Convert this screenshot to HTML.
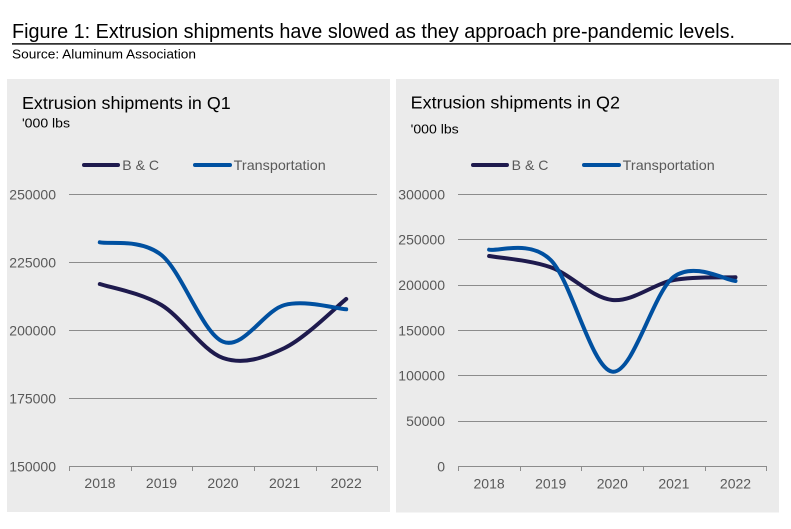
<!DOCTYPE html>
<html><head><meta charset="utf-8"><style>
html,body{margin:0;padding:0;background:#fff;}
svg{display:block;}
text{font-family:"Liberation Sans",Arial,sans-serif;}
</style></head><body>
<svg width="791" height="529" viewBox="0 0 791 529" xmlns="http://www.w3.org/2000/svg">
<rect width="791" height="529" fill="#fff"/>
<text x="12" y="38" font-size="20.5" fill="#000" textLength="723" lengthAdjust="spacingAndGlyphs">Figure 1: Extrusion shipments have slowed as they approach pre-pandemic levels.</text>
<rect x="12" y="43.2" width="779" height="1.4" fill="#000"/>
<text x="12" y="58.5" font-size="13" fill="#000" textLength="184" lengthAdjust="spacingAndGlyphs">Source: Aluminum Association</text>

<!-- Left panel -->
<rect x="7" y="79" width="383" height="433" fill="#ebebeb"/>
<text x="22" y="109" font-size="17.5" fill="#000" textLength="208.7" lengthAdjust="spacingAndGlyphs">Extrusion shipments in Q1</text>
<text x="22" y="127.7" font-size="13" fill="#000" textLength="48" lengthAdjust="spacingAndGlyphs">'000 lbs</text>
<line x1="84" y1="165" x2="118" y2="165" stroke="#1e1a4d" stroke-width="4" stroke-linecap="round"/>
<text x="122.3" y="170" font-size="14" fill="#595959" textLength="36.7" lengthAdjust="spacingAndGlyphs">B &amp; C</text>
<line x1="195" y1="165" x2="230" y2="165" stroke="#0050a0" stroke-width="4" stroke-linecap="round"/>
<text x="233.7" y="170" font-size="14" fill="#595959" textLength="92" lengthAdjust="spacingAndGlyphs">Transportation</text>
<g stroke="#8c8c8c" stroke-width="1">
<line x1="69" y1="194.5" x2="377" y2="194.5"/>
<line x1="69" y1="262.5" x2="377" y2="262.5"/>
<line x1="69" y1="330.5" x2="377" y2="330.5"/>
<line x1="69" y1="398.5" x2="377" y2="398.5"/>
<line x1="69" y1="466.5" x2="377" y2="466.5"/>
<line x1="69.5" y1="466" x2="69.5" y2="471"/>
<line x1="131.5" y1="466" x2="131.5" y2="471"/>
<line x1="192.5" y1="466" x2="192.5" y2="471"/>
<line x1="254.5" y1="466" x2="254.5" y2="471"/>
<line x1="316.5" y1="466" x2="316.5" y2="471"/>
<line x1="377.5" y1="466" x2="377.5" y2="471"/>
</g>
<g font-size="14" fill="#595959" text-anchor="end">
<text x="56" y="199.5">250000</text>
<text x="56" y="267.5">225000</text>
<text x="56" y="335.5">200000</text>
<text x="56" y="403.5">175000</text>
<text x="56" y="471.5">150000</text>
</g>
<g font-size="14" fill="#595959" text-anchor="middle">
<text x="100" y="488">2018</text>
<text x="161.5" y="488">2019</text>
<text x="223" y="488">2020</text>
<text x="284.6" y="488">2021</text>
<text x="346.2" y="488">2022</text>
</g>
<path d="M99.8,284 C110.07,287.5 140.87,292.67 161.4,305 C181.93,317.33 202.47,350.83 223,358 C243.53,365.17 264.07,357.83 284.6,348 C305.13,338.17 335.93,307.17 346.2,299" fill="none" stroke="#1e1a4d" stroke-width="4" stroke-linecap="round"/>
<path d="M99.8,242.3 C110.07,244.42 140.87,238.43 161.4,255 C181.93,271.57 202.47,333.37 223,341.7 C243.53,350.03 264.07,310.4 284.6,305 C305.13,299.6 335.93,308.58 346.2,309.3" fill="none" stroke="#0050a0" stroke-width="4" stroke-linecap="round"/>

<!-- Right panel -->
<rect x="396" y="79" width="383" height="433.5" fill="#ebebeb"/>
<text x="410.7" y="108.3" font-size="17.5" fill="#000" textLength="209.3" lengthAdjust="spacingAndGlyphs">Extrusion shipments in Q2</text>
<text x="410.7" y="133.3" font-size="13" fill="#000" textLength="48" lengthAdjust="spacingAndGlyphs">'000 lbs</text>
<line x1="473" y1="165" x2="507" y2="165" stroke="#1e1a4d" stroke-width="4" stroke-linecap="round"/>
<text x="511.7" y="170" font-size="14" fill="#595959" textLength="36.7" lengthAdjust="spacingAndGlyphs">B &amp; C</text>
<line x1="584" y1="165" x2="619" y2="165" stroke="#0050a0" stroke-width="4" stroke-linecap="round"/>
<text x="622.7" y="170" font-size="14" fill="#595959" textLength="92" lengthAdjust="spacingAndGlyphs">Transportation</text>
<g stroke="#8c8c8c" stroke-width="1">
<line x1="458" y1="194.5" x2="767" y2="194.5"/>
<line x1="458" y1="239.5" x2="767" y2="239.5"/>
<line x1="458" y1="285.5" x2="767" y2="285.5"/>
<line x1="458" y1="330.5" x2="767" y2="330.5"/>
<line x1="458" y1="375.5" x2="767" y2="375.5"/>
<line x1="458" y1="421.5" x2="767" y2="421.5"/>
<line x1="458" y1="466.5" x2="767" y2="466.5"/>
<line x1="458.5" y1="466" x2="458.5" y2="471"/>
<line x1="520.5" y1="466" x2="520.5" y2="471"/>
<line x1="581.5" y1="466" x2="581.5" y2="471"/>
<line x1="643.5" y1="466" x2="643.5" y2="471"/>
<line x1="705.5" y1="466" x2="705.5" y2="471"/>
<line x1="766.5" y1="466" x2="766.5" y2="471"/>
</g>
<g font-size="14" fill="#595959" text-anchor="end">
<text x="445" y="199.5">300000</text>
<text x="445" y="244.5">250000</text>
<text x="445" y="290">200000</text>
<text x="445" y="335.5">150000</text>
<text x="445" y="380.5">100000</text>
<text x="445" y="426">50000</text>
<text x="445" y="471.5">0</text>
</g>
<g font-size="14" fill="#595959" text-anchor="middle">
<text x="489.1" y="488.3">2018</text>
<text x="550.7" y="488.3">2019</text>
<text x="612.3" y="488.3">2020</text>
<text x="673.9" y="488.3">2021</text>
<text x="735.5" y="488.3">2022</text>
</g>
<path d="M489.1,256 C499.38,257.88 530.14,259.97 550.7,267.3 C571.26,274.63 591.74,297.88 612.3,300 C632.86,302.12 653.34,283.78 673.9,280 C694.46,276.22 725.22,277.75 735.5,277.3" fill="none" stroke="#1e1a4d" stroke-width="4" stroke-linecap="round"/>
<path d="M489.1,249.7 C499.38,251.42 530.14,239.67 550.7,260 C571.26,280.33 591.74,368.92 612.3,371.7 C632.86,374.48 653.34,291.82 673.9,276.7 C694.46,261.58 725.22,280.28 735.5,281" fill="none" stroke="#0050a0" stroke-width="4" stroke-linecap="round"/>
</svg>
</body></html>
